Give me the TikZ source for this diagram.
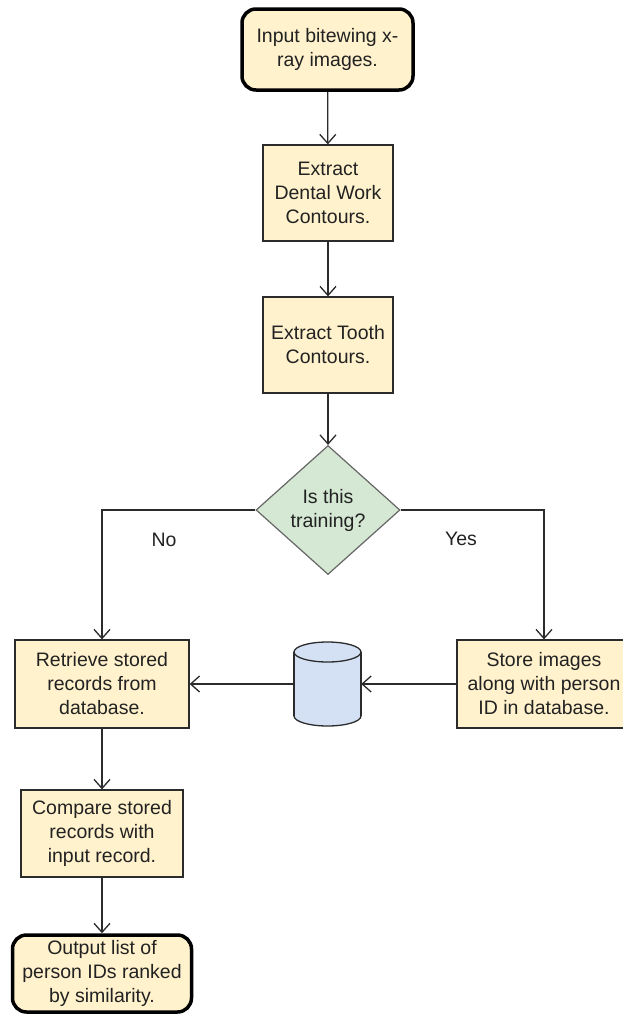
\documentclass[tikz,border=0pt]{standalone}
\usepackage{fontspec}
\setmainfont{Liberation Sans}
\usetikzlibrary{shapes.geometric,arrows.meta}
\definecolor{boxfill}{HTML}{FFF2CC}
\definecolor{decfill}{HTML}{D5E8D4}
\definecolor{dbfill}{HTML}{D4E1F5}
\definecolor{ink}{HTML}{2B2B2B}
\definecolor{txt}{HTML}{222222}
\begin{document}
\begin{tikzpicture}[x=1pt,y=-1pt,
  font=\fontsize{19.5}{24}\selectfont,
  every node/.style={text=txt},
  process/.style={draw=ink, line width=1.3pt, fill=boxfill, align=center,
    inner sep=0pt},
  terminal/.style={draw=black, line width=3.5pt, rounded corners=14pt,
    fill=boxfill, align=center, inner sep=0pt},
  decision/.style={diamond, draw=black!60, line width=1.2pt, fill=decfill,
    align=center, inner sep=0pt, aspect=1.12},
  flow/.style={draw=ink, line width=1.3pt,
    -{Straight Barb[length=9pt,width=16pt,line width=1.3pt]}},
  lbl/.style={inner sep=0pt}]
\useasboundingbox (0,0) rectangle (623,1017);
\clip (0,0) rectangle (623,1017);

% main column
\node[terminal, minimum width=171pt, minimum height=81pt] (start) at (327.5,49.5)
  {Input bitewing x-\\ray images.};
\node[process, minimum width=130pt, minimum height=96pt] (dental) at (328,193)
  {Extract\\Dental Work\\Contours.};
\node[process, minimum width=130pt, minimum height=96pt] (tooth) at (328,345)
  {Extract Tooth\\Contours.};
\node[decision, minimum width=144pt, minimum height=129pt] (dec) at (328,510)
  {Is this\\training?};

% branches
\node[process, minimum width=174pt, minimum height=88pt] (retr) at (102,684)
  {Retrieve stored\\records from\\database.};
\node[process, minimum width=174pt, minimum height=88pt] (store) at (544,684)
  {Store images\\along with person\\ID in database.};
\node[minimum width=67pt, minimum height=84pt, inner sep=0pt] (db) at (327.5,684) {};
\node[process, minimum width=162pt, minimum height=87pt] (cmp) at (102,833.5)
  {Compare stored\\records with\\input record.};
\node[terminal, minimum width=179pt, minimum height=77pt] (out) at (102,973.5)
  {Output list of\\person IDs ranked\\by similarity.};

% database cylinder
\filldraw[draw=ink, fill=dbfill, line width=1.3pt] (327.5,716) ellipse [x radius=33.5, y radius=10];
\fill[dbfill] (294,652) rectangle (361,716);
\draw[ink, line width=1.3pt] (294,652) -- (294,716) (361,652) -- (361,716);
\filldraw[draw=ink, fill=dbfill, line width=1.3pt] (327.5,652) ellipse [x radius=33.5, y radius=10];

% branch labels
\node[lbl] (no) at (164,540) {No};
\node[lbl] (yes) at (461,539) {Yes};

% connectors
\draw[flow] (start) -- (dental);
\draw[flow] (dental) -- (tooth);
\draw[flow] (tooth) -- (dec);
\draw[flow] (dec.west) -| (retr.north);
\draw[flow] (dec.east) -| (store.north);
\draw[flow] (store.west) -- (db.east);
\draw[flow] (db.west) -- (retr.east);
\draw[flow] (retr) -- (cmp);
\draw[flow] (cmp) -- (out);
\end{tikzpicture}
\end{document}
